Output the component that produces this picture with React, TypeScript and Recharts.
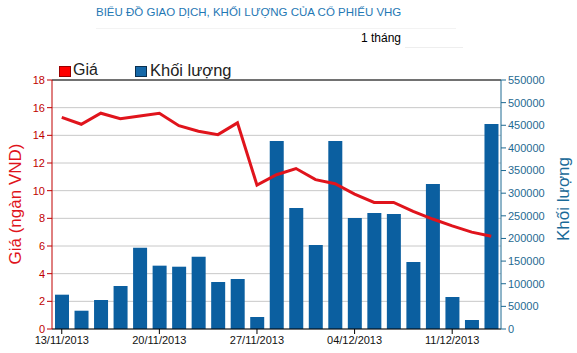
import { ComposedChart, Bar, Line, XAxis, YAxis, CartesianGrid, ReferenceLine } from 'recharts';

const dates = [
  '13/11/2013', '14/11/2013', '15/11/2013', '18/11/2013', '19/11/2013',
  '20/11/2013', '21/11/2013', '22/11/2013', '25/11/2013', '26/11/2013',
  '27/11/2013', '28/11/2013', '29/11/2013', '02/12/2013', '03/12/2013',
  '04/12/2013', '05/12/2013', '06/12/2013', '09/12/2013', '10/12/2013',
  '11/12/2013', '12/12/2013', '13/12/2013',
];

const price = [
  15.3, 14.8, 15.6, 15.2, 15.4, 15.6, 14.7, 14.3, 14.05, 14.9,
  10.4, 11.15, 11.6, 10.8, 10.5, 9.75, 9.15, 9.15, 8.5, 7.95,
  7.45, 7.0, 6.7,
];

const volume = [
  75800, 40400, 64000, 95000, 179600, 139900, 137600, 159700, 103800, 110400,
  26500, 415300, 267300, 185500, 415300, 245200, 256200, 254000, 148000, 320300,
  70700, 19900, 452800,
];

const priceTicks = [0, 2, 4, 6, 8, 10, 12, 14, 16, 18];
const volumeTicks = [0, 50000, 100000, 150000, 200000, 250000, 300000, 350000, 400000, 450000, 500000, 550000];

const data = dates.map((d, i) => ({ date: d, price: price[i], volume: volume[i] }));

const FONT = '"Liberation Sans", Arial, sans-serif';
const RED = '#e0141c';
const BLUE = '#0b5fa0';
const AXIS_BLUE = '#1f6a92';

export default function App() {
  return (
    <div style={{ position: 'relative', width: 577, height: 353, fontFamily: FONT, background: '#fff' }}>
      <style>{`body { margin: 0; }`}</style>
      <div style={{ position: 'absolute', left: 96, top: 6, fontSize: 11.5, color: '#1f78b4', whiteSpace: 'nowrap' }}>
        BIỂU ĐỒ GIAO DỊCH, KHỐI LƯỢNG CỦA CỔ PHIẾU VHG
      </div>
      <div style={{ position: 'absolute', left: 96, top: 28, width: 360, borderTop: '1px solid #f3f3f3' }} />
      <div style={{ position: 'absolute', left: 361, top: 31, fontSize: 12, color: '#000', whiteSpace: 'nowrap' }}>
        1 tháng
      </div>
      <div style={{ position: 'absolute', left: 405, top: 47, width: 58, borderTop: '1px solid #eee' }} />

      {/* legend */}
      <div style={{ position: 'absolute', left: 59, top: 66, width: 10, height: 9, background: '#f00', border: '1px solid #900' }} />
      <div style={{ position: 'absolute', left: 73, top: 61, fontSize: 16, color: '#222' }}>Giá</div>
      <div style={{ position: 'absolute', left: 135, top: 66, width: 10, height: 9, background: '#1568a8', border: '1px solid #0a3050' }} />
      <div style={{ position: 'absolute', left: 150, top: 61, fontSize: 16.5, color: '#222' }}>Khối lượng</div>

      {/* axis titles */}
      <div style={{ position: 'absolute', left: 16, top: 204, transform: 'translate(-50%, -50%) rotate(-90deg)', fontSize: 17, color: RED, whiteSpace: 'nowrap' }}>
        Giá (ngàn VND)
      </div>
      <div style={{ position: 'absolute', left: 564, top: 199, transform: 'translate(-50%, -50%) rotate(-90deg)', fontSize: 17, color: '#1a6a98', whiteSpace: 'nowrap' }}>
        Khối lượng
      </div>

      <div style={{ position: 'absolute', left: 0, top: 0 }}>
        <ComposedChart width={577} height={353} data={data} margin={{ top: 80, right: 0, bottom: 0, left: 0 }}>
          <CartesianGrid yAxisId="left" vertical={false} stroke="#c8c8c8" />
          <XAxis
            dataKey="date"
            interval={4}
            height={24}
            stroke="#000"
            tickSize={5}
            tick={{ fontSize: 11, fill: '#111', fontFamily: FONT }}
            tickMargin={2}
          />
          <YAxis
            yAxisId="left"
            orientation="left"
            width={52}
            domain={[0, 18]}
            ticks={priceTicks}
            stroke="#c00000"
            tickSize={5}
            tickMargin={2}
            tick={{ fontSize: 11, fill: '#c00000', fontFamily: FONT }}
          />
          <YAxis
            yAxisId="right"
            orientation="right"
            width={76}
            domain={[0, 550000]}
            ticks={volumeTicks}
            stroke={AXIS_BLUE}
            tickSize={5}
            tickMargin={2}
            tick={{ fontSize: 11, fill: AXIS_BLUE, fontFamily: FONT, textAnchor: 'start' }}
          />
          <ReferenceLine yAxisId="left" y={18} stroke="#000" />
          <Bar yAxisId="right" dataKey="volume" fill={BLUE} barSize={14} isAnimationActive={false} />
          <Line
            yAxisId="left"
            type="linear"
            dataKey="price"
            stroke={RED}
            strokeWidth={3}
            dot={false}
            activeDot={false}
            isAnimationActive={false}
          />
        </ComposedChart>
      </div>
    </div>
  );
}
